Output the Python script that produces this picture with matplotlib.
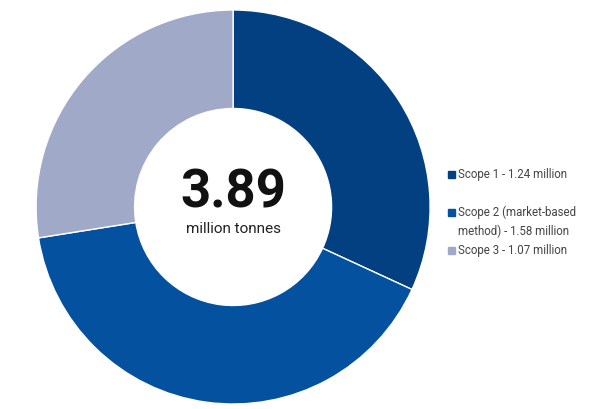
import matplotlib.pyplot as plt

labels = ["Scope 1 - 1.24 million", "Scope 2 (market-based\nmethod) - 1.58 million", "Scope 3 - 1.07 million"]
values = [1.24, 1.58, 1.07]
colors = ["#034081", "#03519f", "#a0aac8"]
total_text = "3.89"
unit_text = "million tonnes"

plt.rcParams['font.family'] = ['Roboto', 'DejaVu Sans']

fig = plt.figure(figsize=(6.15, 4.1), dpi=100)
ax = fig.add_axes([0.0585, 0.0122, 0.641, 0.961])
ax.pie(values, colors=colors, startangle=90, counterclock=False,
       wedgeprops=dict(width=0.5, edgecolor="white", linewidth=1))
ax.set_xlim(-1, 1)
ax.set_ylim(-1, 1)
ax.set_aspect("equal")

ax.text(0, 0.005, total_text, ha="center", va="baseline", fontsize=38, fontweight="bold", color="#111111")
ax.text(0, -0.127, unit_text, ha="center", va="baseline", fontsize=11, color="#222222")

# legend drawn by hand
legend_y = [175, 213, 251]
for lab, col, y in zip(labels, colors, legend_y):
    fy = 1 - y / 410
    fig.patches.append(plt.Rectangle((448 / 615, fy - 3.5 / 410), 7 / 615, 7 / 410,
                                     transform=fig.transFigure, color=col))
    fig.text(458 / 615, fy + 7 / 410, lab, ha="left", va="top",
             fontsize=8.3, color="#444444", linespacing=1.45)

fig.savefig("out.png", dpi=100)
